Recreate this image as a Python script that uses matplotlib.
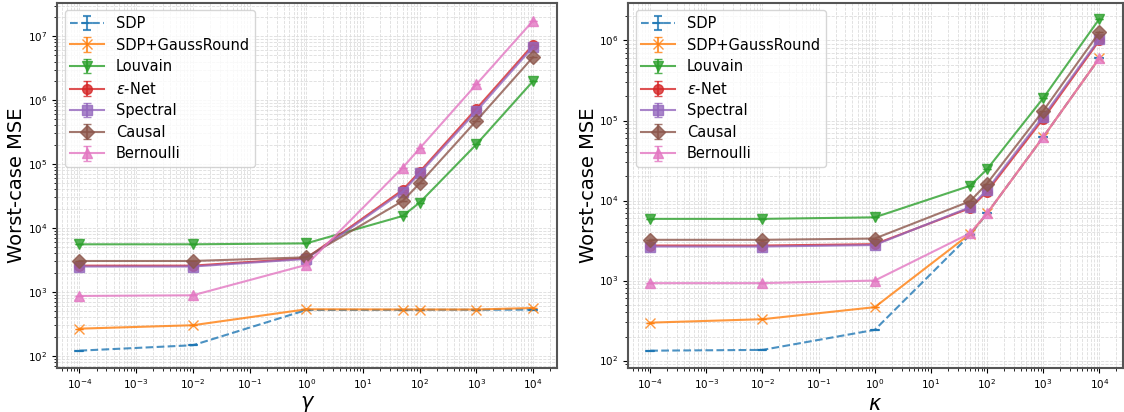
import numpy as np
import matplotlib
matplotlib.use("Agg")
import matplotlib.pyplot as plt

x_vals = [1e-4, 1e-2, 1, 50, 100, 1000, 10000]

labels = ["SDP", "SDP+GaussRound", "Louvain", r"$\epsilon$-Net", "Spectral", "Causal", "Bernoulli"]
markers = ["_", "x", "v", "o", "s", "D", "^"]
styles = ["--", "-", "-", "-", "-", "-", "-"]

# left panel: varying gamma
gamma_sdp = [121, 147, 523, 525, 527, 527, 530]
gamma_sdp_gr = [267, 302, 536, 532, 532, 532, 562]
gamma_louvain = [5560, 5560, 5750, 15400, 25000, 2.03e5, 1.98e6]
gamma_enet = [2580, 2580, 3360, 39300, 75800, 7.3e5, 7.3e6]
gamma_spectral = [2500, 2500, 3280, 36900, 71600, 6.7e5, 6.8e6]
gamma_causal = [3050, 3050, 3480, 26400, 49900, 4.75e5, 4.7e6]
gamma_bern = [866, 887, 2650, 87500, 1.76e5, 1.76e6, 1.74e7]

# right panel: varying kappa
kappa_sdp = [133, 136, 242, 3730, 6900, 6.2e4, 6.0e5]
kappa_sdp_gr = [298, 329, 465, 3840, 6900, 6.2e4, 6.0e5]
kappa_louvain = [5900, 5900, 6170, 15300, 24600, 1.9e5, 1.86e6]
kappa_enet = [2740, 2740, 2850, 8040, 12900, 1.05e5, 1.0e6]
kappa_spectral = [2660, 2660, 2780, 8270, 13600, 1.12e5, 1.04e6]
kappa_causal = [3230, 3230, 3350, 9800, 16300, 1.32e5, 1.26e6]
kappa_bern = [929, 929, 1000, 3900, 6900, 6.2e4, 6.0e5]

gamma_series = [gamma_sdp, gamma_sdp_gr, gamma_louvain, gamma_enet, gamma_spectral, gamma_causal, gamma_bern]
kappa_series = [kappa_sdp, kappa_sdp_gr, kappa_louvain, kappa_enet, kappa_spectral, kappa_causal, kappa_bern]

fig = plt.figure(figsize=(11.24, 4.12), dpi=100)
ax1 = fig.add_axes([0.051, 0.107, 0.4445, 0.886])
ax2 = fig.add_axes([0.559, 0.107, 0.440, 0.886])

panels = [(ax1, gamma_series, r"$\gamma$", (65, 3.3e7)),
          (ax2, kappa_series, r"$\kappa$", (81, 2.95e6))]

for ax, series, xlabel, ylim in panels:
    for i, ys in enumerate(series):
        ax.errorbar(x_vals, ys, yerr=np.zeros(len(ys)), label=labels[i],
                    marker=markers[i], linestyle=styles[i], color=f"C{i}",
                    markersize=7 if markers[i] != "x" else 6.5,
                    markeredgewidth=1.5 if markers[i] == "_" else 1,
                    linewidth=1.5, capsize=3, alpha=0.8)
    ax.set_xscale("log")
    ax.set_yscale("log")
    ax.set_ylim(*ylim)
    ax.set_xlim(10 ** -4.39, 10 ** 4.42)
    ax.set_xticks([10.0 ** k for k in range(-4, 5)])
    ax.grid(True, which="both", linestyle="--", linewidth=0.6, color="#dddddd")
    ax.set_xlabel(xlabel, fontsize=15, labelpad=2)
    ax.set_ylabel("Worst-case MSE", fontsize=14)
    ax.tick_params(labelsize=7.5)
    for s in ax.spines.values():
        s.set_color("#555555")
        s.set_linewidth(1.5)
    ax.legend(loc="upper left", fontsize=10.5, handlelength=2.3, labelspacing=0.45)
    ax.yaxis.set_label_coords(-0.062, 0.5)

fig.savefig("out.png", dpi=100)
